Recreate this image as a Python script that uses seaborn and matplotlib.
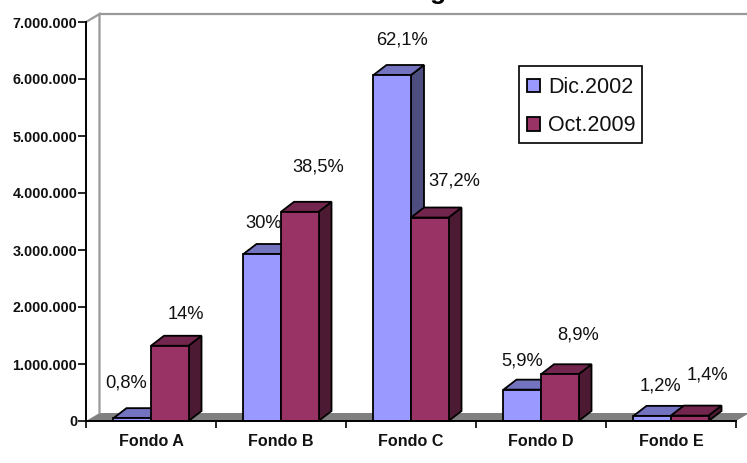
import matplotlib
matplotlib.use("Agg")
import matplotlib.pyplot as plt
from matplotlib.patches import Polygon, Rectangle
from matplotlib.ticker import FuncFormatter
import pandas as pd
import seaborn as sns

funds = ["Fondo A", "Fondo B", "Fondo C", "Fondo D", "Fondo E"]
periods = ["Dic.2002", "Oct.2009"]
dic_2002 = [50000, 2930000, 6070000, 550000, 90000]
oct_2009 = [1320000, 3670000, 3570000, 820000, 95000]
dic_2002_share = ["0,8%", "30%", "62,1%", "5,9%", "1,2%"]
oct_2009_share = ["14%", "38,5%", "37,2%", "8,9%", "1,4%"]

# Share label offsets from each bar's top centre, in pixels
dic_offsets = [(-6, 35), (1, 30), (10, 35), (0, 29), (8, 30)]
oct_offsets = [(16, 31), (18, 45), (25, 37), (18, 39), (18, 41)]

W, H = 747, 463
LEFT, RIGHT, TOP, BASE = 86, 736, 22, 421
FRONT = {"Dic.2002": "#9999FF", "Oct.2009": "#993366"}
UPPER = {"Dic.2002": "#7373BF", "Oct.2009": "#73264D"}
SIDE = {"Dic.2002": "#4D4D80", "Oct.2009": "#4D1A33"}
FONT = ["Liberation Sans", "DejaVu Sans"]
EDGE = 1.3

sns.set_theme(style="white")
plt.rcParams["font.family"] = FONT

frame = pd.DataFrame({
    "fund": funds * 2,
    "period": [periods[0]] * 5 + [periods[1]] * 5,
    "value": dic_2002 + oct_2009,
})

fig = plt.figure(figsize=(W / 100, H / 100), dpi=100, facecolor="white")
ax = fig.add_axes([LEFT / W, (H - BASE) / H, (RIGHT - LEFT) / W, (BASE - TOP) / H])
ax.set_facecolor("none")

sns.barplot(data=frame, x="fund", y="value", hue="period", hue_order=periods,
            palette=FRONT, width=0.577, gap=0, edgecolor="black", linewidth=EDGE,
            saturation=1, errorbar=None, ax=ax)
ax.set_xlim(-0.5, 4.5)
ax.set_ylim(0, 7000000)

unit_x = 5 / (RIGHT - LEFT)
unit_y = 7000000 / (BASE - TOP)
bar_dx, bar_dy = 13 * unit_x, 10 * unit_y
wall_dx, wall_dy = 13.5 * unit_x, 8 * unit_y

# Floor and back wall of the box behind the bars
ax.add_patch(Polygon([(-0.5, 0), (4.5, 0), (4.5 + wall_dx, wall_dy), (-0.5 + wall_dx, wall_dy)],
                     closed=True, facecolor="#808080", edgecolor="none", zorder=0.5, clip_on=False))
ax.plot([-0.5, -0.5 + wall_dx, -0.5 + wall_dx], [7000000, 7000000 + wall_dy, wall_dy],
        color="#999999", lw=1.6, zorder=0.6, clip_on=False, solid_joinstyle="miter")
ax.plot([-0.5 + wall_dx, 4.5 + wall_dx], [7000000 + wall_dy] * 2,
        color="#999999", lw=1.6, zorder=0.6, clip_on=False)

# Side and top faces extruded from every bar
for level, (period, container) in enumerate(zip(periods, ax.containers)):
    for bar in container:
        x0, x1 = bar.get_x(), bar.get_x() + bar.get_width()
        h = bar.get_height()
        z = 3 + level
        bar.set_zorder(z + 0.5)
        bar.set_clip_on(False)
        ax.add_patch(Polygon([(x1, 0), (x1 + bar_dx, bar_dy), (x1 + bar_dx, h + bar_dy), (x1, h)],
                             closed=True, facecolor=SIDE[period], edgecolor="black",
                             lw=EDGE, zorder=z, clip_on=False))
        ax.add_patch(Polygon([(x0, h), (x1, h), (x1 + bar_dx, h + bar_dy), (x0 + bar_dx, h + bar_dy)],
                             closed=True, facecolor=UPPER[period], edgecolor="black",
                             lw=EDGE, zorder=z + 0.2, clip_on=False))

# Share labels above the bars
for container, shares, offsets in zip(ax.containers, [dic_2002_share, oct_2009_share],
                                      [dic_offsets, oct_offsets]):
    for bar, share, (ox, oy) in zip(container, shares, offsets):
        ax.annotate(share, (bar.get_x() + bar.get_width() / 2, bar.get_height()),
                    xytext=(ox * 0.72, oy * 0.72), textcoords="offset points",
                    ha="center", va="center", fontsize=13.2, color="#111111",
                    zorder=8, annotation_clip=False)

# Axes: ticks sit between the categories, labels at their centres
ax.set_xlabel("")
ax.set_ylabel("")
ax.set_xticks([i - 0.5 for i in range(6)])
ax.set_xticklabels([])
ax.set_xticks(range(5), labels=funds, minor=True)
ax.tick_params(axis="x", which="major", bottom=True, length=5, width=1.2, color="black")
ax.tick_params(axis="x", which="minor", bottom=False, pad=5, labelsize=11.6)
ax.set_yticks(range(0, 7000001, 1000000))
ax.yaxis.set_major_formatter(FuncFormatter(lambda v, _: f"{int(v):,}".replace(",", ".")))
ax.tick_params(axis="y", left=True, length=5.5, width=1.2, color="black", labelsize=10.4, pad=0.8)
for label in ax.get_xticklabels(minor=True) + ax.get_yticklabels():
    label.set_fontweight("bold")
    label.set_color("#111111")
for name in ("top", "right"):
    ax.spines[name].set_visible(False)
for name in ("left", "bottom"):
    ax.spines[name].set_color("black")
    ax.spines[name].set_linewidth(1.4)
    ax.spines[name].set_zorder(7)

# Legend box with its entries set inside a separately sized frame
ax.add_patch(Rectangle((519 / W, (H - 143) / H), 123 / W, 77 / H, transform=fig.transFigure,
                       facecolor="white", edgecolor="black", lw=1.2, zorder=8, clip_on=False))
handles, labels = ax.get_legend_handles_labels()
legend = ax.legend(handles, labels, loc="upper left",
                   bbox_to_anchor=(527 / W, (H - 77) / H), bbox_transform=fig.transFigure,
                   fontsize=15.5, frameon=False, handlelength=0.6, handleheight=0.6,
                   handletextpad=0.37, labelspacing=0.81, borderpad=0, borderaxespad=0)
for handle in legend.get_patches():
    handle.set_linewidth(EDGE)
    handle.set_edgecolor("black")
legend.set_zorder(9)
for text in legend.get_texts():
    text.set_color("#111111")

# Chart title runs off the top edge of the canvas
fig.text(438 / W, (H + 1) / H, "g", ha="center", va="baseline", fontsize=19,
         fontweight="bold", color="black")

fig.savefig("out.png", dpi=100, facecolor="white")
